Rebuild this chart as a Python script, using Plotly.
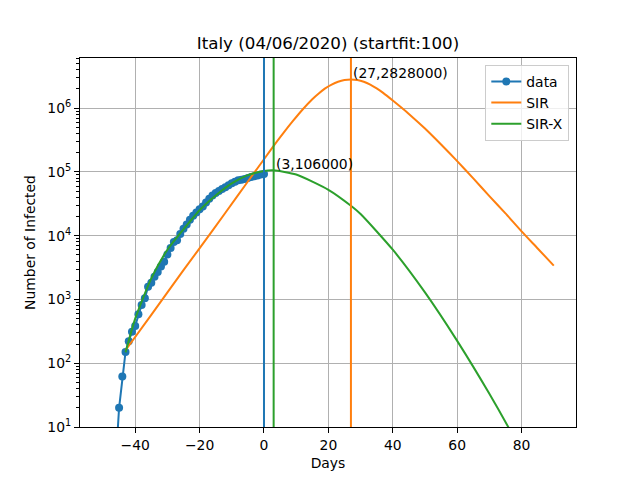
import math
import plotly.graph_objects as go

# observed infected (Italy), day 0 = 04/06/2020
data_days = list(range(-50, 1))
data_vals = [3, 3, 3, 3, 3, 20, 62, 150, 221, 311,
             385, 588, 821, 1049, 1577, 1835, 2263, 2706, 3296, 3916,
             5061, 6387, 7985, 8514, 10590, 12839, 14955, 17750, 20603, 23073,
             26062, 28710, 33190, 37860, 42681, 46638, 50418, 54030, 57521, 62013,
             66414, 70065, 73880, 75528, 77635, 80572, 83049, 85388, 88274, 91246,
             93187]

# SIR fit
sir_days = [-43, -35, -25, -16, -8, -4, 0, 3, 6, 9, 12, 15, 17, 19, 21, 23, 25, 27,
            29, 31, 33, 35, 37, 40, 45, 50, 55, 60, 65, 70, 75, 80, 85, 90]
sir_vals = [160, 575, 2880, 12000, 43600, 83200, 158000, 257000, 407000, 631000,
            955000, 1380000, 1698000, 2042000, 2344000, 2600000, 2773000, 2828000,
            2773000, 2600000, 2344000, 2042000, 1738000, 1318000, 813000,
            479000, 269000, 148000, 79400, 41700, 22400, 11700, 6310, 3390]

# SIR-X fit
sirx_days = [-43, -40, -35, -30, -25, -20, -15, -10, -5, 0, 3, 10, 20, 27,
             30, 40, 50, 60, 70, 80, 90]
sirx_vals = [148, 500, 2140, 6030, 12600, 25100, 42700, 66100, 89100, 103500,
             106000, 91200, 52500, 29500, 21900, 6030, 1290, 224, 33.1, 4.17, 0.457]

last_day = 0
sirx_peak = (3, 106000)
sir_peak = (27, 2828000)

font = "DejaVu Sans"
fig = go.Figure()
fig.add_trace(go.Scatter(x=data_days, y=data_vals, mode="lines+markers", name="data",
                         line=dict(color="#1f77b4", width=2),
                         marker=dict(color="#1f77b4", size=8)))
fig.add_trace(go.Scatter(x=sir_days, y=sir_vals, mode="lines", name="SIR",
                         line=dict(color="#ff7f0e", width=2, shape="spline", smoothing=0.6)))
fig.add_trace(go.Scatter(x=sirx_days, y=sirx_vals, mode="lines", name="SIR-X",
                         line=dict(color="#2ca02c", width=2, shape="spline", smoothing=0.6)))

fig.add_vline(x=last_day, line=dict(color="#1f77b4", width=2))
fig.add_vline(x=sirx_peak[0], line=dict(color="#2ca02c", width=2))
fig.add_vline(x=sir_peak[0], line=dict(color="#ff7f0e", width=2))

# annotation y on a log axis is given in log10 units
for px_, py_ in (sirx_peak, sir_peak):
    fig.add_annotation(x=px_, y=math.log10(py_), xref="x", yref="y", text=f"({px_},{py_})",
                       showarrow=False, xanchor="left", yanchor="middle",
                       xshift=0, yshift=6, font=dict(family=font, size=13.9, color="black"))

minor = [k * 10 ** n for n in range(1, 7) for k in range(2, 10)]
# page adds an 8px body margin, so the figure is 8px smaller on each side
fig.update_layout(
    width=632, height=472,
    margin=dict(l=72, r=64, t=49.6, b=52.8),
    paper_bgcolor="white", plot_bgcolor="white",
    font=dict(family=font, size=13.9, color="black"),
    title=dict(text="Italy (04/06/2020) (startfit:100)", x=0.5, xref="paper",
               y=1 - 35 / 472, yanchor="middle", font=dict(size=16.7)),
    legend=dict(x=0.9865, y=0.981, xanchor="right", yanchor="top",
                bgcolor="rgba(255,255,255,0.8)", bordercolor="#cccccc", borderwidth=1,
                font=dict(size=13.9), tracegroupgap=0),
    showlegend=True,
)
fig.update_xaxes(range=[-57.14, 96.9], dtick=20, tick0=0, showgrid=True, gridcolor="#b0b0b0",
                 gridwidth=1, zeroline=False, showline=True, linecolor="black", linewidth=1,
                 mirror=True, ticks="outside", ticklen=5, tickcolor="black",
                 title=dict(text="Days", standoff=6, font=dict(size=13.9)))
fig.update_yaxes(type="log", range=[1, 6.787],
                 tickvals=[10 ** n for n in range(1, 7)],
                 ticktext=[f"10<sup>{n}</sup>" for n in range(1, 7)],
                 showgrid=True, gridcolor="#b0b0b0", gridwidth=1, zeroline=False,
                 showline=True, linecolor="black", linewidth=1, mirror=True,
                 ticks="outside", ticklen=5, tickcolor="black",
                 minor=dict(tickvals=minor, ticks="outside", ticklen=3, tickcolor="black",
                            showgrid=False),
                 title=dict(text="Number of Infected", standoff=8, font=dict(size=13.9)))

fig.write_html("out.html")
